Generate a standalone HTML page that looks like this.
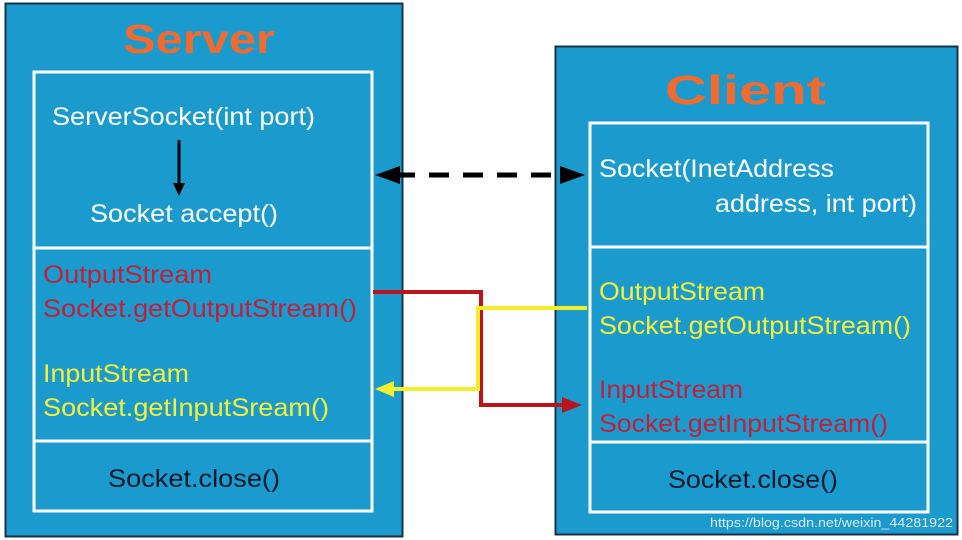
<!DOCTYPE html>
<html><head><meta charset="utf-8"><style>
html,body{margin:0;padding:0;background:#fff;}
svg{display:block}
text{font-family:"Liberation Sans",sans-serif;}
</style></head><body>
<svg width="962" height="540" viewBox="0 0 962 540" xmlns="http://www.w3.org/2000/svg">
<rect x="0" y="0" width="962" height="540" fill="#fff"/>
<!-- Server -->
<rect x="5.5" y="3.5" width="397" height="533" fill="#1b9acd" stroke="#1a3348" stroke-width="2"/>
<text x="123" y="53" font-size="41" font-weight="bold" fill="#f26a2e" textLength="152" lengthAdjust="spacingAndGlyphs">Server</text>
<rect x="34" y="72" width="338" height="439" fill="none" stroke="#fff" stroke-width="3"/>
<line x1="34" y1="248" x2="372" y2="248" stroke="#fff" stroke-width="3"/>
<line x1="34" y1="441" x2="372" y2="441" stroke="#fff" stroke-width="3"/>
<g font-size="25">
<text x="52" y="125" fill="#fff" textLength="263" lengthAdjust="spacingAndGlyphs">ServerSocket(int port)</text>
<text x="90" y="222" fill="#fff" textLength="188" lengthAdjust="spacingAndGlyphs">Socket accept()</text>
<text x="43" y="283" fill="#c0203a" textLength="169" lengthAdjust="spacingAndGlyphs">OutputStream</text>
<text x="43" y="317" fill="#c0203a" textLength="314" lengthAdjust="spacingAndGlyphs">Socket.getOutputStream()</text>
<text x="43" y="382" fill="#f5f03a" textLength="146" lengthAdjust="spacingAndGlyphs">InputStream</text>
<text x="43" y="416" fill="#f5f03a" textLength="286" lengthAdjust="spacingAndGlyphs">Socket.getInputSream()</text>
<text x="108" y="487" fill="#0a1a2a" textLength="172" lengthAdjust="spacingAndGlyphs">Socket.close()</text>
</g>
<line x1="179" y1="140" x2="179" y2="186" stroke="#000" stroke-width="3"/>
<polygon points="173,183 185,183 179,196" fill="#000"/>
<!-- Client -->
<rect x="555.5" y="46.5" width="402" height="488" fill="#1b9acd" stroke="#1a3348" stroke-width="2"/>
<text x="665" y="104" font-size="41" font-weight="bold" fill="#f26a2e" textLength="161" lengthAdjust="spacingAndGlyphs">Client</text>
<rect x="590" y="123" width="338" height="389" fill="none" stroke="#fff" stroke-width="3"/>
<line x1="590" y1="247" x2="928" y2="247" stroke="#fff" stroke-width="3"/>
<line x1="590" y1="442" x2="928" y2="442" stroke="#fff" stroke-width="3"/>
<g font-size="25">
<text x="599" y="177" fill="#fff" textLength="235" lengthAdjust="spacingAndGlyphs">Socket(InetAddress</text>
<text x="715" y="212" fill="#fff" textLength="202" lengthAdjust="spacingAndGlyphs">address, int port)</text>
<text x="599" y="300" fill="#f5f03a" textLength="166" lengthAdjust="spacingAndGlyphs">OutputStream</text>
<text x="599" y="334" fill="#f5f03a" textLength="312" lengthAdjust="spacingAndGlyphs">Socket.getOutputStream()</text>
<text x="599" y="398" fill="#c0203a" textLength="144" lengthAdjust="spacingAndGlyphs">InputStream</text>
<text x="599" y="432" fill="#c0203a" textLength="289" lengthAdjust="spacingAndGlyphs">Socket.getInputStream()</text>
<text x="668" y="488" fill="#0a1a2a" textLength="170" lengthAdjust="spacingAndGlyphs">Socket.close()</text>
</g>
<text x="710" y="527" font-size="13" fill="#dde8ef" textLength="243" lengthAdjust="spacingAndGlyphs">https://blog.csdn.net/weixin_44281922</text>
<!-- dashed double arrow -->
<line x1="395" y1="175" x2="565" y2="175" stroke="#000" stroke-width="5" stroke-dasharray="20,14"/>
<polygon points="375,175 400,166 400,184" fill="#000"/>
<polygon points="585,175 560,166 560,184" fill="#000"/>
<!-- red -->
<polyline points="373,292 481,292 481,405 565,405" fill="none" stroke="#b8151d" stroke-width="4"/>
<polygon points="582,405 562,397 562,413" fill="#b8151d"/>
<!-- yellow -->
<polyline points="587,308 478,308 478,389 392,389" fill="none" stroke="#f5ee2a" stroke-width="4"/>
<polygon points="375,389 394,381 394,397" fill="#f5ee2a"/>
</svg>
</body></html>
